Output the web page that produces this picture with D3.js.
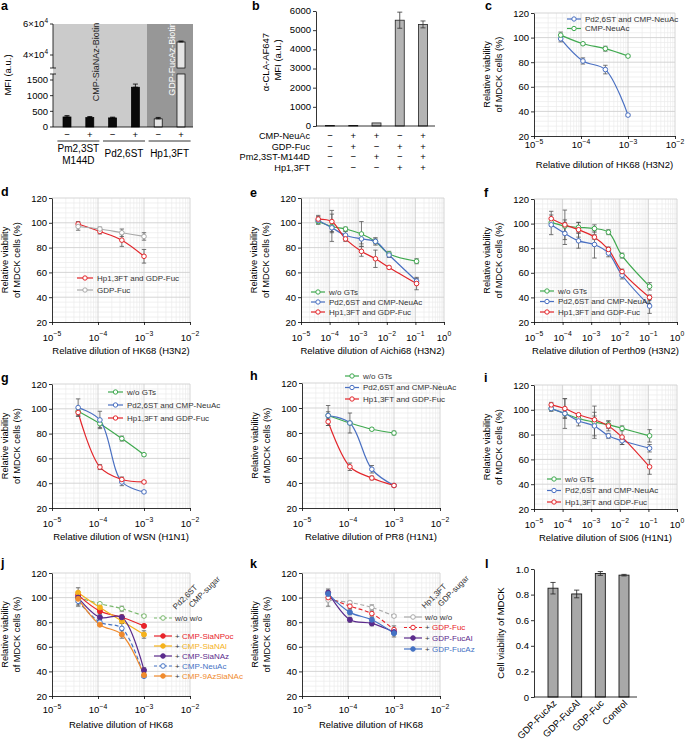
<!DOCTYPE html>
<html><head><meta charset="utf-8">
<script src="https://cdn.jsdelivr.net/npm/d3@7"></script>
<style>body{margin:0;background:#fff}svg{font-family:"Liberation Sans",Arial,Helvetica,sans-serif}</style>
</head><body><svg id="chart" width="687" height="740"></svg>
<script>
// ================= DATA =================
// panel a
const aGroups = ["Pm2,3ST\nM144D", "Pd2,6ST", "Hp1,3FT"];
const aSigns = ["\u2212", "+", "\u2212", "+", "\u2212", "+"];
const aValues = [320, 300, 290, 1270, 260, 48400];
const aErrors = [45, 35, 25, 100, 45, 600];
const aYTicksLow = [0, 500, 1000, 1500];
const aYTicksHigh = [40000, 60000];
// panel b
const bRows = ["CMP-NeuAc", "GDP-Fuc", "Pm2,3ST-M144D", "Hp1,3FT"];
const bSigns = [
  ["\u2212", "+", "+", "\u2212", "+"],
  ["\u2212", "+", "\u2212", "+", "+"],
  ["\u2212", "\u2212", "+", "\u2212", "+"],
  ["\u2212", "\u2212", "\u2212", "+", "+"]
];
const bValues = [30, 30, 160, 5520, 5300];
const bErrors = [0, 0, 0, 420, 180];
const bYTicks = [0, 1000, 2000, 3000, 4000, 5000, 6000];
// dilutions
const dil4 = [3.7e-5, 1.1e-4, 3.3e-4, 1e-3];
const dil7 = [4e-5, 1.2e-4, 3.6e-4, 1.3e-3, 4e-3, 1.2e-2, 1.1e-1];
const vYTicks = [20, 40, 60, 80, 100, 120];
// panel c
const cPdNeuAc = [99, 81, 74, 37],   cPdNeuAcErr = [2.5, 2.5, 3.5, 1];
const cNeuAc   = [102, 95, 91, 85],  cNeuAcErr   = [2.5, 1, 2, 1];
// panel d
const dHpFuc = [99, 93, 86, 73], dHpFucErr = [2, 2, 5, 5.5];
const dFuc   = [97, 95, 92, 89], dFucErr   = [3, 1.5, 3, 3];
// panel e (Aichi68)
const eWo = [101, 97, 95, 91, 85, 75, 69],  eWoErr = [2, 4, 1.5, 10, 3, 2, 2];
const ePd = [102, 96, 90, 87, 85, 74, 53],  ePdErr = [3, 11, 3, 4, 2, 2, 2];
const eHp = [103, 101, 87, 77, 71, 64, 51], eHpErr = [3, 9, 2, 4, 7, 1, 5];
// panel f (Perth09)
const fWo = [101, 98, 97, 96, 93, 74, 49],  fWoErr = [3, 5, 4, 3, 2, 2, 3];
const fPd = [99, 92, 86, 83, 76, 58, 33],   fPdErr = [8, 9, 6, 11, 3, 3, 6];
const fHp = [104, 99, 95, 89, 79, 61, 40],  fHpErr = [6, 12, 6, 2, 2, 2, 2];
// panel g (WSN)
const gWo = [98, 88, 76, 63], gWoErr = [3, 3, 2, 1];
const gPd = [101, 91, 41, 33], gPdErr = [7, 7, 3, 1];
const gHp = [97, 53, 43, 41], gHpErr = [3, 2, 2, 1];
// panel h (PR8)
const hWo = [94, 88, 83, 80], hWoErr = [8, 1, 1, 1.5];
const hPd = [94, 88, 51, 38], hPdErr = [3, 8, 3, 1];
const hHp = [89, 53, 44, 38], hHpErr = [3, 3, 1.5, 1];
// panel i (SI06)
const iWo = [101, 97, 93, 90, 88, 85, 79], iWoErr = [2, 3, 2, 13, 3, 2, 5];
const iPd = [101, 97, 91, 87, 79, 75, 69], iPdErr = [2, 12, 4, 8, 2, 3, 3];
const iHp = [104, 101, 96, 92, 87, 78, 54], iHpErr = [2, 8, 1, 6, 4, 6, 6];
// panel j
const jWoWo    = [100, 95, 91, 85], jWoWoErr    = [3, 1, 2, 1];
const jSiaNPoc = [102, 89, 84, 77], jSiaNPocErr = [3, 2, 1, 1];
const jSiaNAl  = [104, 92, 81, 70], jSiaNAlErr  = [4, 2, 2, 3];
const jSiaNAz  = [100, 84, 84, 41], jSiaNAzErr  = [4, 2, 2, 2];
const jNeuAc   = [97, 80, 75, 36],  jNeuAcErr   = [4, 2, 4, 1];
const j9Az     = [99, 78, 70, 37],  j9AzErr     = [5, 1, 3, 2];
// panel k
const kWoWo  = [98, 96, 92, 85],  kWoWoErr  = [5, 1, 2, 1];
const kFuc   = [100, 93, 87, 74], kFucErr   = [2, 2, 2, 3];
const kFucAl = [104, 82, 79, 72], kFucAlErr = [3, 2, 2, 2];
const kFucAz = [103, 88, 82, 71], kFucAzErr = [3, 2, 2, 3];
// panel l
const lCats = ["GDP-FucAz", "GDP-FucAl", "GDP-Fuc", "Control"];
const lValues = [0.85, 0.805, 0.965, 0.952];
const lErrors = [0.045, 0.03, 0.015, 0.006];
const lYTicks = [0, 0.2, 0.4, 0.6, 0.8, 1.0];

// ================= DRAWING =================
const svg = d3.select("#chart");
const C = {green:"#3fa94f", blue:"#4a70c2", red:"#e3262b", gray:"#a9a9a9",
  jred:"#e8232a", jyel:"#f5b21c", jpur:"#5b2b8c", jblue:"#4472c4", jora:"#f08a2c", jgreen:"#79b86c", err:"#555"};

function text(x, y, s, o = {}) {
  const t = svg.append("text").attr("x", x).attr("y", y).text(s)
    .attr("font-size", o.size || 9.5).attr("fill", o.fill || "#000")
    .attr("text-anchor", o.anchor || "start");
  if (o.bold) t.attr("font-weight", "bold");
  if (o.rot !== undefined) t.attr("transform", `rotate(${o.rot},${x},${y})`);
  return t;
}
function panelLabel(s, x, y) { text(x, y, s, {size: 12.5, bold: true}); }
function line(x1, y1, x2, y2, stroke = "#000", w = 0.8) {
  return svg.append("line").attr("x1", x1).attr("y1", y1).attr("x2", x2).attr("y2", y2)
    .attr("stroke", stroke).attr("stroke-width", w);
}
function errBar(x, y1, y2, cap = 2.2, col = C.err) {
  line(x, y1, x, y2, col, 0.8); line(x - cap, y1, x + cap, y1, col, 0.8); line(x - cap, y2, x + cap, y2, col, 0.8);
}
function styleAxis(g) {
  g.selectAll("path,line").attr("stroke", "#000").attr("stroke-width", 0.8);
  g.selectAll("text").attr("font-size", 9.5).attr("fill", "#000").attr("font-family", '"Liberation Sans",Arial,sans-serif');
}

// ---------- panel a ----------
(function () {
  const x = d3.scalePoint().domain(d3.range(6)).range([67, 181]);
  const yLo = d3.scaleLinear().domain([0, 1500]).range([127, 80]);
  const yHi = d3.scaleLinear().domain([40000, 60000]).range([55, 24]);
  const brLo = 74, brHi = 68, top = yHi(60000), bot = yLo(0), left = 53, right = 193, split = 147;
  svg.append("rect").attr("x", left).attr("y", top).attr("width", split - left).attr("height", bot - top).attr("fill", "#cbcbcb");
  svg.append("rect").attr("x", split).attr("y", top).attr("width", right - split).attr("height", bot - top).attr("fill", "#979797");
  text(99, 62, "CMP-SiaNAz-Biotin", {size: 9, anchor: "middle", rot: -90, fill: "#222"});
  text(175, 59, "GDP-FucAz-Biotin", {size: 9, anchor: "middle", rot: -90, fill: "#fff"});
  const bw = 8;
  aValues.forEach((v, i) => {
    const fill = i >= 4 ? "#e4e4e4" : "#0a0a0a";
    const cx = x(i);
    if (v <= 1700) {
      svg.append("rect").attr("x", cx - bw / 2).attr("y", yLo(v)).attr("width", bw).attr("height", bot - yLo(v))
        .attr("fill", fill).attr("stroke", "#000").attr("stroke-width", 0.7);
      errBar(cx, yLo(v + aErrors[i]), yLo(v), 2.5, "#000");
    } else {
      svg.append("rect").attr("x", cx - bw / 2).attr("y", brLo).attr("width", bw).attr("height", bot - brLo)
        .attr("fill", fill).attr("stroke", "#000").attr("stroke-width", 0.7);
      svg.append("rect").attr("x", cx - bw / 2).attr("y", yHi(v)).attr("width", bw).attr("height", brHi - yHi(v))
        .attr("fill", fill).attr("stroke", "#000").attr("stroke-width", 0.7);
      errBar(cx, yHi(v + aErrors[i]), yHi(v), 2.5, "#000");
    }
  });
  // axes
  line(left, top, left, brHi); line(left, brLo, left, bot); line(left, bot, right, bot);
  line(left - 3, brHi, left + 3, brHi); line(left - 3, brLo, left + 3, brLo);
  aYTicksLow.forEach(t => { line(left - 3, yLo(t), left, yLo(t)); text(left - 5, yLo(t) + 3.4, t, {anchor: "end"}); });
  aYTicksHigh.forEach(t => {
    line(left - 3, yHi(t), left, yHi(t));
    const tt = text(left - 5, yHi(t) + 3.4, "", {anchor: "end"});
    tt.append("tspan").text((t / 10000) + "\u00d710");
    tt.append("tspan").attr("dy", -4).attr("font-size", 6.5).text("4");
  });
  text(11, 75, "MFI (a.u.)", {anchor: "middle", rot: -90});
  aSigns.forEach((s, i) => text(x(i), 137.5, s, {anchor: "middle"}));
  aGroups.forEach((gname, gi) => {
    const cx = (x(gi * 2) + x(gi * 2 + 1)) / 2;
    line(cx - 21, 141, cx + 21, 141, "#000", 0.8);
    const parts = gname.split("\n");
    if (parts.length > 1) { text(cx, 151.5, parts[0], {anchor: "middle", size: 10}); text(cx, 164, parts[1], {anchor: "middle", size: 10}); }
    else text(cx, 156.5, parts[0], {anchor: "middle", size: 10});
  });
  panelLabel("a", 1, 10);
})();

// ---------- panel b ----------
(function () {
  const x = d3.scalePoint().domain(d3.range(5)).range([330, 423]);
  const y = d3.scaleLinear().domain([0, 6000]).range([126, 11]);
  const bw = 9;
  bValues.forEach((v, i) => {
    svg.append("rect").attr("x", x(i) - bw / 2).attr("y", y(v)).attr("width", bw).attr("height", y(0) - y(v))
      .attr("fill", "#b4b4b4").attr("stroke", "#222").attr("stroke-width", 0.8);
    if (bErrors[i] > 0) errBar(x(i), y(v + bErrors[i]), y(v - bErrors[i]), 2.5, "#333");
  });
  const ax = svg.append("g").attr("transform", "translate(316,0)")
    .call(d3.axisLeft(y).tickValues(bYTicks).tickSize(3).tickSizeOuter(0).tickPadding(2).tickFormat(d3.format("d")));
  styleAxis(ax);
  ax.selectAll(".tick text").attr("dy", "0.25em");
  line(316, 126, 435, 126);
  text(269, 62, "\u03b1-CLA-AF647", {anchor: "middle", rot: -90});
  text(281, 60, "MFI (a.u.)", {anchor: "middle", rot: -90});
  const rowsY = [139, 149.5, 160, 170.5];
  bRows.forEach((r, ri) => {
    text(310, rowsY[ri], r, {anchor: "end", size: 9.2});
    bSigns[ri].forEach((s, i) => text(x(i), rowsY[ri], s, {anchor: "middle"}));
  });
  panelLabel("b", 252, 10);
})();

// ---------- generic viability panel ----------
function viabPanel(cfg) {
  const x = d3.scaleLog().domain(cfg.xDomain).range([cfg.x0, cfg.x1]);
  const y = d3.scaleLinear().domain([20, 120]).range([cfg.yBot, cfg.yTop]);
  const lo = Math.round(Math.log10(cfg.xDomain[0])), hi = Math.round(Math.log10(cfg.xDomain[1]));
  const majorX = [], minorX = [];
  for (let d = lo; d <= hi; d++) { majorX.push(Math.pow(10, d)); if (d < hi) for (let k = 2; k <= 9; k++) minorX.push(k * Math.pow(10, d)); }
  const minorY = d3.range(24, 120, 4).filter(v => v % 20 !== 0);
  const g = svg.append("g");
  g.selectAll(null).data(minorX).join("line").attr("x1", d => x(d)).attr("x2", d => x(d))
    .attr("y1", cfg.yTop).attr("y2", cfg.yBot).attr("stroke", "#ebebeb").attr("stroke-width", 0.7);
  g.selectAll(null).data(minorY).join("line").attr("y1", d => y(d)).attr("y2", d => y(d))
    .attr("x1", cfg.x0).attr("x2", cfg.x1).attr("stroke", "#ebebeb").attr("stroke-width", 0.7);
  g.selectAll(null).data(majorX.slice(1)).join("line").attr("x1", d => x(d)).attr("x2", d => x(d))
    .attr("y1", cfg.yTop).attr("y2", cfg.yBot).attr("stroke", "#d0d0d0").attr("stroke-width", 0.9);
  g.selectAll(null).data(vYTicks.slice(1)).join("line").attr("y1", d => y(d)).attr("y2", d => y(d))
    .attr("x1", cfg.x0).attr("x2", cfg.x1).attr("stroke", "#d0d0d0").attr("stroke-width", 0.9);
  // axes
  const ay = svg.append("g").attr("transform", `translate(${cfg.x0},0)`)
    .call(d3.axisLeft(y).tickValues(vYTicks).tickSize(3).tickSizeOuter(0).tickPadding(2));
  styleAxis(ay);
  const axx = svg.append("g").attr("transform", `translate(0,${cfg.yBot})`)
    .call(d3.axisBottom(x).tickValues(majorX).tickSize(3).tickSizeOuter(0).tickFormat(""));
  styleAxis(axx);
  majorX.forEach(v => {
    const e = Math.round(Math.log10(v));
    const t = text(x(v), cfg.yBot + cfg.tickGap, "", {anchor: "middle"});
    t.append("tspan").text("10");
    t.append("tspan").attr("dy", -4.2).attr("font-size", 6.8).text(e < 0 ? "\u2212" + (-e) : String(e));
  });
  text((cfg.x0 + cfg.x1) / 2, cfg.yBot + 31.5, cfg.xTitle, {anchor: "middle"});
  const yc = (cfg.yTop + cfg.yBot) / 2;
  text(cfg.x0 - 44, yc, "Relative viability", {anchor: "middle", rot: -90, size: 9.3});
  text(cfg.x0 - 32, yc, "of MDCK cells (%)", {anchor: "middle", rot: -90, size: 9.3});
  const lg = d3.line().x(d => x(d[0])).y(d => y(d[1])).curve(d3.curveCatmullRom.alpha(0.5));
  cfg.series.forEach(s => {
    const pts = s.xs.map((xv, i) => [xv, s.ys[i]]);
    svg.append("path").attr("d", lg(pts)).attr("fill", "none").attr("stroke", s.color)
      .attr("stroke-width", 1.2).attr("stroke-dasharray", s.dash ? "4,2.5" : null);
  });
  cfg.series.forEach(s => {
    s.xs.forEach((xv, i) => { if (s.es[i] > 0.6) errBar(x(xv), y(s.ys[i] + s.es[i]), y(s.ys[i] - s.es[i])); });
  });
  cfg.series.forEach(s => {
    svg.append("g").selectAll("circle").data(s.xs.map((xv, i) => [xv, s.ys[i]])).join("circle")
      .attr("cx", d => x(d[0])).attr("cy", d => y(d[1])).attr("r", s.filled ? 2.5 : 2.3)
      .attr("fill", s.filled ? s.color : "#fff").attr("stroke", s.color).attr("stroke-width", 1);
  });
  // legend
  if (cfg.legend) {
    const L = cfg.legend;
    cfg.series.forEach((s, i) => {
      const ly = L.ys[i];
      svg.append("line").attr("x1", L.x1).attr("x2", L.x2).attr("y1", ly).attr("y2", ly)
        .attr("stroke", s.color).attr("stroke-width", 1.2).attr("stroke-dasharray", s.dash ? "3,2" : null);
      svg.append("circle").attr("cx", (L.x1 + L.x2) / 2).attr("cy", ly).attr("r", 2.2)
        .attr("fill", s.filled ? s.color : "#fff").attr("stroke", s.color).attr("stroke-width", 1);
      text(L.x2 + 4, ly + 2.8, s.name, {size: 8, fill: "#333"});
    });
  }
  return {x, y};
}

const dec3 = [1e-5, 1e-2], dec6 = [1e-5, 1];
const mk = (name, xs, ys, es, color, extra = {}) => Object.assign({name, xs, ys, es, color}, extra);

// c
viabPanel({xDomain: dec3, x0: 534, x1: 675, yTop: 13, yBot: 136, tickGap: 12, xTitle: "Relative dilution of HK68 (H3N2)",
  series: [mk("Pd2,6ST and CMP-NeuAc", dil4, cPdNeuAc, cPdNeuAcErr, C.blue), mk("CMP-NeuAc", dil4, cNeuAc, cNeuAcErr, C.green)],
  legend: {x1: 567, x2: 581, ys: [19, 28.5]}});
panelLabel("c", 485, 10);
// d
viabPanel({xDomain: dec3, x0: 52, x1: 190, yTop: 198, yBot: 322, tickGap: 18.5, xTitle: "Relative dilution of HK68 (H3N2)",
  series: [mk("Hp1,3FT and GDP-Fuc", dil4, dHpFuc, dHpFucErr, C.red), mk("GDP-Fuc", dil4, dFuc, dFucErr, C.gray)],
  legend: {x1: 77, x2: 93, ys: [278, 290]}});
panelLabel("d", 1, 196);
// e
viabPanel({xDomain: dec6, x0: 301, x1: 444, yTop: 198, yBot: 322, tickGap: 18.5, xTitle: "Relative dilution of Aichi68 (H3N2)",
  series: [mk("w/o GTs", dil7, eWo, eWoErr, C.green), mk("Pd2,6ST and CMP-NeuAc", dil7, ePd, ePdErr, C.blue), mk("Hp1,3FT and GDP-Fuc", dil7, eHp, eHpErr, C.red)],
  legend: {x1: 311, x2: 325, ys: [292, 302, 312]}});
panelLabel("e", 250, 197);
// f
viabPanel({xDomain: dec6, x0: 534, x1: 677, yTop: 199, yBot: 322, tickGap: 18.5, xTitle: "Relative dilution of Perth09 (H3N2)",
  series: [mk("w/o GTs", dil7, fWo, fWoErr, C.green), mk("Pd2,6ST and CMP-NeuAc", dil7, fPd, fPdErr, C.blue), mk("Hp1,3FT and GDP-Fuc", dil7, fHp, fHpErr, C.red)],
  legend: {x1: 540, x2: 554, ys: [291, 301.5, 312]}});
panelLabel("f", 484, 197);
// g
viabPanel({xDomain: dec3, x0: 52, x1: 190, yTop: 384, yBot: 508, tickGap: 18.5, xTitle: "Relative dilution of WSN (H1N1)",
  series: [mk("w/o GTs", dil4, gWo, gWoErr, C.green), mk("Pd2,6ST and CMP-NeuAc", dil4, gPd, gPdErr, C.blue), mk("Hp1,3FT and GDP-Fuc", dil4, gHp, gHpErr, C.red)],
  legend: {x1: 108, x2: 123, ys: [392, 405, 418]}});
panelLabel("g", 1, 382);
// h
viabPanel({xDomain: dec3, x0: 302, x1: 440, yTop: 383, yBot: 508, tickGap: 18.5, xTitle: "Relative dilution of PR8 (H1N1)",
  series: [mk("w/o GTs", dil4, hWo, hWoErr, C.green), mk("Pd2,6ST and CMP-NeuAc", dil4, hPd, hPdErr, C.blue), mk("Hp1,3FT and GDP-Fuc", dil4, hHp, hHpErr, C.red)],
  legend: {x1: 345, x2: 359, ys: [376, 387.5, 399]}});
panelLabel("h", 250, 380);
// i
viabPanel({xDomain: dec6, x0: 534, x1: 677, yTop: 385, yBot: 509, tickGap: 18.5, xTitle: "Relative dilution of SI06 (H1N1)",
  series: [mk("w/o GTs", dil7, iWo, iWoErr, C.green), mk("Pd2,6ST and CMP-NeuAc", dil7, iPd, iPdErr, C.blue), mk("Hp1,3FT and GDP-Fuc", dil7, iHp, iHpErr, C.red)],
  legend: {x1: 547, x2: 561, ys: [479, 490.5, 502]}});
panelLabel("i", 484, 382);
// j
viabPanel({xDomain: dec3, x0: 52, x1: 190, yTop: 573, yBot: 696, tickGap: 17, xTitle: "Relative dilution of HK68",
  series: [mk("w/o w/o", dil4, jWoWo, jWoWoErr, C.jgreen, {dash: true}),
    mk("CMP-SiaNPoc", dil4, jSiaNPoc, jSiaNPocErr, C.jred, {filled: true}),
    mk("CMP-SiaNAl", dil4, jSiaNAl, jSiaNAlErr, C.jyel, {filled: true}),
    mk("CMP-SiaNAz", dil4, jSiaNAz, jSiaNAzErr, C.jpur, {filled: true}),
    mk("CMP-NeuAc", dil4, jNeuAc, jNeuAcErr, C.jblue, {dash: true}),
    mk("CMP-9AzSiaNAc", dil4, j9Az, j9AzErr, C.jora, {filled: true})]});
panelLabel("j", 1, 567);
// k
viabPanel({xDomain: dec3, x0: 302, x1: 440, yTop: 573, yBot: 696, tickGap: 17, xTitle: "Relative dilution of HK68",
  series: [mk("w/o w/o", dil4, kWoWo, kWoWoErr, C.gray, {dash: true}),
    mk("GDP-Fuc", dil4, kFuc, kFucErr, C.jred, {dash: true}),
    mk("GDP-FucAl", dil4, kFucAl, kFucAlErr, C.jpur, {filled: true}),
    mk("GDP-FucAz", dil4, kFucAz, kFucAzErr, C.jblue, {filled: true})]});
panelLabel("k", 250, 568);

// j / k special legends
function plusLegend(cfg) {
  text(cfg.hx1, cfg.hy, cfg.h1, {size: 8, rot: -45, fill: "#333"});
  text(cfg.hx2, cfg.hy - 2, cfg.h2, {size: 8, rot: -45, fill: "#333"});
  cfg.items.forEach((it, i) => {
    const ly = cfg.ys[i];
    svg.append("line").attr("x1", cfg.lx1).attr("x2", cfg.lx2).attr("y1", ly).attr("y2", ly)
      .attr("stroke", it.color).attr("stroke-width", 1.2).attr("stroke-dasharray", it.dash ? "3,2" : null);
    svg.append("circle").attr("cx", (cfg.lx1 + cfg.lx2) / 2).attr("cy", ly).attr("r", 2.3)
      .attr("fill", it.filled ? it.color : "#fff").attr("stroke", it.color).attr("stroke-width", 1);
    if (i === 0) text(cfg.lx2 + 3, ly + 2.8, "w/o w/o", {size: 8, fill: "#333"});
    else {
      text(cfg.lx2 + 3, ly + 2.8, "+", {size: 8, fill: "#333"});
      text(cfg.lx2 + 10, ly + 2.8, it.name, {size: 8, fill: it.color});
    }
  });
}
plusLegend({h1: "Pd2,6ST", h2: "CMP-sugar", hx1: 176, hx2: 192, hy: 610, lx1: 154, lx2: 172,
  ys: [618, 636, 646, 656, 666, 676],
  items: [{color: C.jgreen, dash: true}, {name: "CMP-SiaNPoc", color: C.jred, filled: true}, {name: "CMP-SiaNAl", color: C.jyel, filled: true},
    {name: "CMP-SiaNAz", color: C.jpur, filled: true}, {name: "CMP-NeuAc", color: C.jblue, dash: true}, {name: "CMP-9AzSiaNAc", color: C.jora, filled: true}]});
plusLegend({h1: "Hp1,3FT", h2: "GDP-sugar", hx1: 425, hx2: 441, hy: 609, lx1: 404, lx2: 422,
  ys: [617, 627.5, 638, 649],
  items: [{color: C.gray, dash: false}, {name: "GDP-Fuc", color: C.jred, dash: true}, {name: "GDP-FucAl", color: C.jpur, filled: true},
    {name: "GDP-FucAz", color: C.jblue, filled: true}]});

// ---------- panel l ----------
(function () {
  const x = d3.scalePoint().domain(lCats).range([553, 624]);
  const y = d3.scaleLinear().domain([0, 1]).range([697, 569]);
  const bw = 10;
  lValues.forEach((v, i) => {
    const cx = x(lCats[i]);
    svg.append("rect").attr("x", cx - bw / 2).attr("y", y(v)).attr("width", bw).attr("height", y(0) - y(v))
      .attr("fill", "#a8a8a8").attr("stroke", "#1a1a1a").attr("stroke-width", 0.9);
    errBar(cx, y(v + lErrors[i]), y(v - lErrors[i]), 2.6, "#222");
  });
  const ay = svg.append("g").attr("transform", "translate(534,0)")
    .call(d3.axisLeft(y).tickValues(lYTicks).tickSize(3).tickSizeOuter(0).tickPadding(2)
      .tickFormat(d => d === 0 ? "0" : d3.format(".1f")(d)));
  styleAxis(ay);
  line(534, 697, 637, 697);
  lCats.forEach(cn => text(x(cn) + 4, 704, cn, {anchor: "end", rot: -45}));
  text(504, 633, "Cell viability of MDCK", {anchor: "middle", rot: -90});
  panelLabel("l", 485, 568);
})();
</script></body></html>
